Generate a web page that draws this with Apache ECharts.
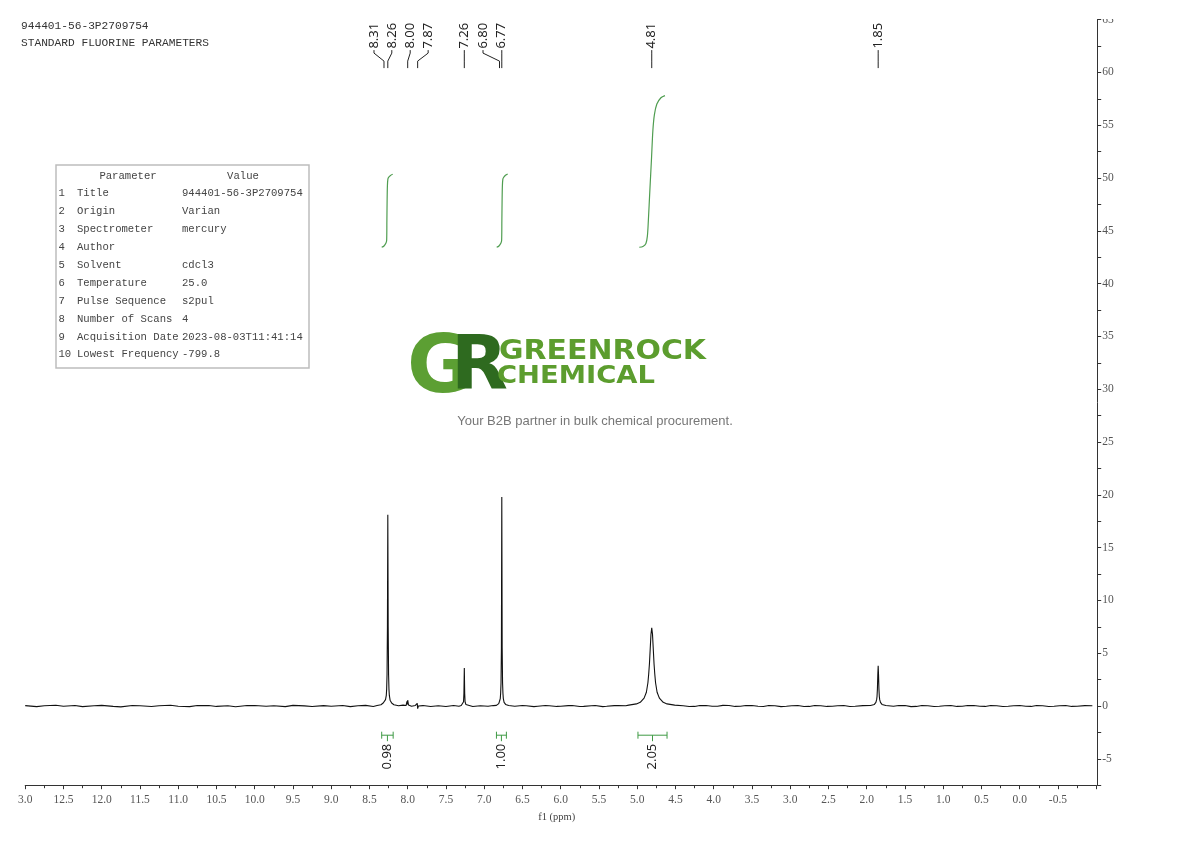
<!DOCTYPE html>
<html><head><meta charset="utf-8">
<script src="https://cdn.jsdelivr.net/npm/echarts@6/dist/echarts.min.js"></script>
<style>html,body{margin:0;padding:0;background:#fff}#c{width:1190px;height:841px}</style>
</head><body><div id="c"></div>
<script>
// ---------------- data ----------------
const sampleId = '944401-56-3P2709754';
const experimentName = 'STANDARD FLUORINE PARAMETERS';
const paramNames = ['Title','Origin','Spectrometer','Author','Solvent','Temperature','Pulse Sequence','Number of Scans','Acquisition Date','Lowest Frequency'];
const paramValues = ['944401-56-3P2709754','Varian','mercury','','cdcl3','25.0','s2pul','4','2023-08-03T11:41:14','-799.8'];

// spectrum: [ppm, intensity]
const spectrum = [
[13.00,0.04],[12.85,-0.06],[12.75,0.02],[12.60,0.07],[12.50,-0.03],[12.35,0.05],[12.25,-0.06],[12.10,0.03],[12.00,0.06],[11.85,-0.04],[11.75,-0.08],[11.60,0.04],[11.50,0.02],[11.35,-0.05],[11.25,0.03],[11.10,0.07],[11.00,-0.02],[10.85,-0.06],[10.75,0.04],[10.60,0.05],[10.50,-0.04],[10.35,0.02],[10.25,-0.07],[10.10,0.04],[10.00,0.05],[9.85,-0.03],[9.75,0.02],[9.60,-0.06],[9.50,0.06],[9.35,0.01],[9.25,-0.05],[9.10,0.04],[9.00,-0.02],[8.85,0.05],[8.75,-0.06],[8.65,0.03],[8.55,0.06],[8.45,-0.04],
[8.40,0.05],[8.35,0.12],[8.32,0.28],[8.31,0.38],[8.30,0.42],[8.29,0.6],[8.28,1.0],[8.275,1.6],[8.27,3.0],[8.265,7.5],[8.26,18.1],[8.255,7.5],[8.25,3.0],[8.245,1.6],[8.24,1.0],[8.23,0.55],[8.21,0.28],[8.18,0.12],[8.12,0.03],[8.06,0.08],
[8.02,0.05],[8.01,0.45],[8.005,0.15],[8.00,0.55],[7.99,0.1],[7.95,-0.02],[7.90,0.05],[7.875,0.25],[7.87,-0.25],[7.86,0.0],[7.80,0.04],[7.70,-0.04],[7.60,0.03],[7.50,-0.05],[7.40,0.04],[7.33,-0.02],
[7.30,0.04],[7.28,0.15],[7.27,0.4],[7.265,1.2],[7.26,3.6],[7.255,1.2],[7.25,0.4],[7.24,0.15],[7.22,0.03],[7.15,-0.04],[7.05,0.03],[6.95,-0.03],[6.88,0.04],
[6.84,0.06],[6.81,0.22],[6.80,0.45],[6.79,0.7],[6.785,1.2],[6.78,2.2],[6.775,5.5],[6.77,19.8],[6.765,5.5],[6.76,2.2],[6.755,1.2],[6.75,0.7],[6.74,0.35],[6.72,0.15],[6.68,0.05],
[6.60,-0.03],[6.50,0.05],[6.45,0.02],[6.35,-0.06],[6.30,-0.02],[6.20,0.05],[6.15,0.03],[6.05,-0.04],[6.00,-0.02],[5.90,0.04],[5.85,0.05],[5.75,-0.05],[5.70,-0.04],[5.60,0.02],[5.55,0.04],[5.45,-0.06],[5.40,-0.03],[5.30,0.04],[5.25,0.05],[5.15,0.02],
[5.11,0.08],[5.01,0.2],[4.96,0.35],[4.91,0.75],[4.88,1.3],[4.86,2.2],[4.85,3.0],[4.84,4.0],[4.83,5.4],[4.82,6.8],[4.81,7.4],[4.80,6.8],[4.79,5.4],[4.78,4.0],[4.77,3.0],[4.76,2.2],[4.74,1.3],[4.71,0.75],[4.66,0.35],[4.61,0.2],[4.51,0.08],
[4.40,0.03],[4.32,-0.05],[4.25,-0.04],[4.18,0.05],[4.10,0.04],[4.02,-0.03],[3.95,-0.03],[3.88,0.06],[3.80,0.05],[3.72,-0.04],[3.65,-0.02],[3.58,0.05],[3.50,0.04],[3.42,-0.02],[3.35,-0.05],[3.28,0.04],[3.20,0.03],[3.12,-0.06],[3.05,-0.03],[2.98,0.03],[2.90,0.04],[2.82,-0.05],[2.75,-0.04],[2.68,0.05],[2.60,0.03],[2.52,-0.04],[2.45,-0.02],[2.38,0.03],[2.30,0.05],[2.22,-0.05],[2.15,-0.03],[2.05,0.04],
[1.95,0.05],[1.90,0.15],[1.88,0.35],[1.87,0.6],[1.865,0.9],[1.86,1.6],[1.855,2.9],[1.85,3.8],[1.845,2.9],[1.84,1.6],[1.835,0.9],[1.83,0.6],[1.82,0.35],[1.80,0.15],[1.75,0.05],
[1.65,-0.03],[1.58,0.05],[1.50,0.04],[1.42,-0.06],[1.35,-0.04],[1.28,0.04],[1.20,0.03],[1.12,-0.05],[1.05,-0.03],[0.98,0.03],[0.90,0.05],[0.82,-0.04],[0.75,-0.03],[0.68,0.05],[0.60,0.04],[0.52,-0.03],[0.45,-0.04],[0.38,0.05],[0.30,0.03],[0.22,-0.05],[0.15,-0.02],[0.08,0.03],[0.00,0.04],[-0.08,-0.03],[-0.15,-0.04],[-0.22,0.04],[-0.30,0.03],[-0.38,-0.05],[-0.45,-0.03],[-0.52,0.03],[-0.60,0.04],[-0.68,-0.04],[-0.75,-0.02],[-0.85,0.04],[-0.95,0.03]
];

const peakShifts = [8.31, 8.26, 8.00, 7.87, 7.26, 6.80, 6.77, 4.81, 1.85];

const integralRanges = [[8.34, 8.19], [6.84, 6.71], [4.99, 4.61]];
const integralValues = [0.98, 1.00, 2.05];

const integralCurve1 = [[8.340,43.44],[8.310,43.56],[8.284,43.84],[8.275,44.1],[8.272,46.0],[8.269,47.9],[8.265,49.3],[8.259,49.9],[8.250,50.05],[8.225,50.24],[8.196,50.35]];
const integralCurve2 = [[6.837,43.44],[6.807,43.56],[6.781,43.84],[6.772,44.1],[6.769,46.0],[6.766,47.9],[6.762,49.3],[6.756,49.9],[6.747,50.05],[6.722,50.26],[6.693,50.38]];
const integralCurve3 = [[4.973,43.44],[4.925,43.52],[4.886,43.8],[4.867,44.5],[4.854,46.0],[4.834,48.9],[4.814,51.7],[4.795,54.5],[4.775,56.0],[4.743,57.0],[4.690,57.6],[4.637,57.8]];

const logoWord1 = 'GREENROCK';
const logoWord2 = 'CHEMICAL';
const tagline = 'Your B2B partner in bulk chemical procurement.';

// ---------------- layout / style ----------------
const peakLabelShiftPx = [-10, 4, 2.5, 10.5, 0, -16.5, 0, 0, 0];
const GREEN_INT = '#4f9d50';
const MONO = '"Liberation Mono", monospace';
const SERIF = '"Liberation Serif", serif';
const SANS = '"Noto Sans", "Open Sans", sans-serif';

const chart = echarts.init(document.getElementById('c'), null, {renderer: 'canvas'});

function txt(x, y, text, font, fill, align, extra) {
  return Object.assign({
    type: 'text', x: x, y: y, silent: true, z: 10,
    style: {text: text, font: font, fill: fill, align: align || 'left', verticalAlign: 'middle',
            textAlign: align || 'left', textVerticalAlign: 'middle'}
  }, extra || {});
}

const graphics = [];
graphics.push(txt(21, 26, sampleId, '11.2px ' + MONO, '#333'));
graphics.push(txt(21, 43.3, experimentName, '11.2px ' + MONO, '#333'));
// parameter table
graphics.push({type: 'rect', silent: true, z: 10, shape: {x: 56, y: 165, width: 253, height: 203},
  style: {fill: '#fff', stroke: '#bdbdbd', lineWidth: 1.5}});
graphics.push(txt(128, 176, 'Parameter', '10.6px ' + MONO, '#444', 'center'));
graphics.push(txt(243, 176, 'Value', '10.6px ' + MONO, '#444', 'center'));
paramNames.forEach(function (n, i) {
  const y = 193.5 + i * 17.9;
  graphics.push(txt(58.5, y, String(i + 1), '10.6px ' + MONO, '#444'));
  graphics.push(txt(77, y, n, '10.6px ' + MONO, '#444'));
  graphics.push(txt(182, y, paramValues[i], '10.6px ' + MONO, '#444'));
});
// logo
graphics.push(txt(407, 371, 'G', 'bold 80px "DejaVu Sans"', '#5c9f33'));
graphics.push(txt(451, 370, 'R', 'bold 74px "DejaVu Sans"', '#2e6a1f'));
graphics.push(txt(499, 352.5, logoWord1, 'bold 26px "DejaVu Sans"', '#5c9d2e', 'left', {scaleX: 1.15}));
graphics.push(txt(497, 376.5, logoWord2, 'bold 24.7px "DejaVu Sans"', '#5c9d2e', 'left', {scaleX: 1.11}));
graphics.push(txt(595, 421, tagline, '13px "Liberation Sans", Arial, sans-serif', '#777', 'center'));
// clip the top axis label like the reference
graphics.push({type: 'rect', silent: true, z: 100, shape: {x: 1100, y: 0, width: 40, height: 19}, style: {fill: '#fff'}});

const option = {
  animation: false,
  backgroundColor: '#fff',
  grid: {left: 25.2, right: 93.8, top: 19.6, bottom: 55.8, containLabel: false},
  xAxis: {
    type: 'value', inverse: true, min: -1, max: 13, interval: 0.5,
    name: 'f1 (ppm)', nameLocation: 'middle', nameGap: 27,
    nameTextStyle: {fontFamily: SERIF, fontSize: 10.5, color: '#444', padding: [0, 8, 0, 0]},
    axisLine: {show: true, onZero: false, lineStyle: {color: '#333', width: 1}},
    axisTick: {show: true, inside: false, length: 4, lineStyle: {color: '#333'}},
    minorTick: {show: true, splitNumber: 2, length: 3, lineStyle: {color: '#333'}},
    splitLine: {show: false}, minorSplitLine: {show: false},
    axisLabel: {
      margin: 9, fontFamily: SERIF, fontSize: 11.5, color: '#555',
      formatter: function (v) {
        if (Math.abs(v + 1) < 1e-9) return '';
        if (Math.abs(v - 13) < 1e-9) return '3.0';
        return v.toFixed(1);
      }
    }
  },
  yAxis: {
    type: 'value', position: 'right', offset: 1, min: -7.5, max: 65, interval: 2.5,
    axisLine: {show: true, onZero: false, lineStyle: {color: '#333', width: 1}},
    axisTick: {show: true, inside: false, length: 4, lineStyle: {color: '#333'}},
    splitLine: {show: false},
    axisLabel: {
      margin: 5, fontFamily: SERIF, fontSize: 11.5, color: '#555',
      formatter: function (v) { return Math.abs(v % 5) < 1e-9 ? String(v) : ''; }
    }
  },
  graphic: graphics,
  series: [
    {type: 'line', data: spectrum, showSymbol: false, symbol: 'none', silent: true,
     lineStyle: {color: '#111', width: 1.1}, z: 3},
    {type: 'line', data: integralCurve1, showSymbol: false, symbol: 'none', silent: true, smooth: 0.3,
     lineStyle: {color: GREEN_INT, width: 1.2}},
    {type: 'line', data: integralCurve2, showSymbol: false, symbol: 'none', silent: true, smooth: 0.3,
     lineStyle: {color: GREEN_INT, width: 1.2}},
    {type: 'line', data: integralCurve3, showSymbol: false, symbol: 'none', silent: true, smooth: 0.3,
     lineStyle: {color: GREEN_INT, width: 1.2}},
    {
      type: 'custom', silent: true, clip: false,
      data: peakShifts.map(function (p, i) { return [p, peakLabelShiftPx[i]]; }),
      encode: {x: 0},
      renderItem: function (params, api) {
        const ppm = api.value(0);
        const px = api.coord([ppm, 0])[0];
        const lx = px + api.value(1);
        const top = params.coordSys.y;
        const yText = top + 29;
        return {type: 'group', children: [
          {type: 'text', x: lx, y: yText, rotation: Math.PI / 2,
           style: {text: ppm.toFixed(2), font: '13px ' + SANS, fill: '#222',
                   align: 'left', verticalAlign: 'middle', textAlign: 'left', textVerticalAlign: 'middle'}},
          {type: 'polyline', shape: {points: [[lx, top + 30.5], [lx, top + 33.5], [px, top + 41.5], [px, top + 48.5]]},
           style: {stroke: '#222', lineWidth: 1, fill: null}}
        ]};
      }
    },
    {
      type: 'custom', silent: true, clip: false,
      data: integralRanges.map(function (r, i) { return [r[0], r[1], integralValues[i]]; }),
      encode: {x: [0, 1]},
      renderItem: function (params, api) {
        const x1 = api.coord([api.value(0), 0])[0];
        const x2 = api.coord([api.value(1), 0])[0];
        const xm = (x1 + x2) / 2;
        const yb = params.coordSys.y + params.coordSys.height - 50;
        const st = {stroke: '#3f9a45', lineWidth: 1, fill: null};
        return {type: 'group', children: [
          {type: 'polyline', shape: {points: [[x1, yb], [x2, yb]]}, style: st},
          {type: 'polyline', shape: {points: [[x1, yb - 3.5], [x1, yb + 3.5]]}, style: st},
          {type: 'polyline', shape: {points: [[x2, yb - 3.5], [x2, yb + 3.5]]}, style: st},
          {type: 'polyline', shape: {points: [[xm, yb], [xm, yb + 6]]}, style: st},
          {type: 'text', x: xm, y: yb + 8.5, rotation: Math.PI / 2,
           style: {text: api.value(2).toFixed(2), font: '13px ' + SANS, fill: '#222',
                   align: 'right', verticalAlign: 'middle', textAlign: 'right', textVerticalAlign: 'middle'}}
        ]};
      }
    }
  ]
};
chart.setOption(option);
</script>
</body></html>
